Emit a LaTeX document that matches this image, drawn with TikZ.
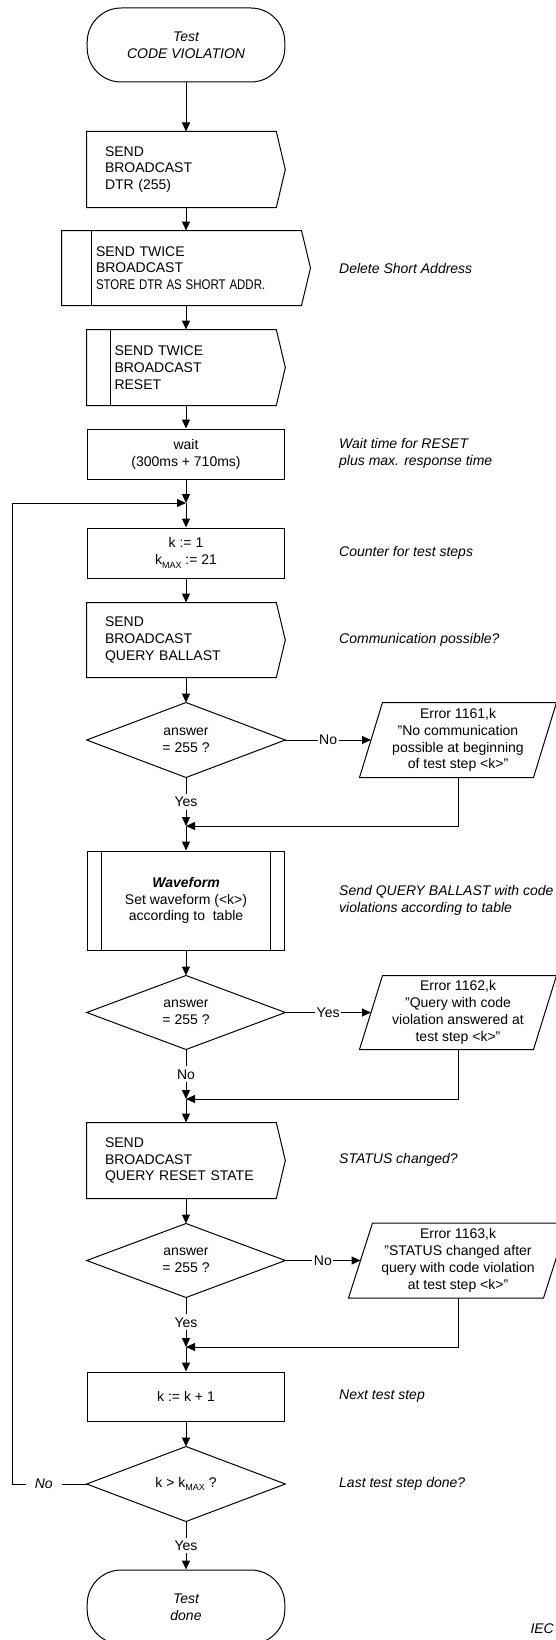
\documentclass[tikz,border=0pt]{standalone}
\usepackage{fontspec}
\usepackage{graphicx}
\setmainfont{Liberation Sans}
\usetikzlibrary{arrows.meta,calc}
\newcommand{\kmx}{k\raisebox{-3.5pt}{\fontsize{9}{9}\selectfont MAX}}
\newcommand{\qq}{\symbol{34}}
\newcommand{\sigbox}[2]{\draw (#1.north west) -- ($(#1.north east)+(-#2,0)$) -- (#1.east) -- ($(#1.south east)+(-#2,0)$) -- (#1.south west) -- cycle;}
\newcommand{\diam}[1]{\draw (#1.north) -- (#1.east) -- (#1.south) -- (#1.west) -- cycle;}
\newcommand{\para}[2]{\draw ($(#1.north west)+(#2,0)$) -- ($(#1.north east)+(#2,0)$) -- ($(#1.south east)+(-#2,0)$) -- ($(#1.south west)+(-#2,0)$) -- cycle;}
\begin{document}
\begin{tikzpicture}[x=1pt,y=-1pt,line width=1pt,
  every node/.style={font=\fontsize{14}{16.8}\selectfont, inner sep=0pt},
  arr/.style={-{Triangle[length=9pt,width=8pt]}},
  hid/.style={draw=none, rectangle, inner sep=0pt},
  term/.style={draw, rectangle, rounded corners=34pt, minimum width=197.6pt, minimum height=74pt, align=center, font=\fontsize{14}{16.8}\selectfont\itshape},
  lbl/.style={fill=white, inner xsep=1.5pt, inner ysep=3pt},
  cmt/.style={anchor=west, align=left, font=\fontsize{14}{16.8}\selectfont\itshape},
  err/.style={hid, align=center},
]
\useasboundingbox (0,0) rectangle (556,1640);

% start
\node[term] (start) at (186,45) {Test\\CODE VIOLATION};

% send broadcast DTR
\node[hid, minimum width=197.6pt, minimum height=75pt, text width=162pt, align=left] (s1) at (186,169.5) {SEND\\BROADCAST\\DTR (255)};
\sigbox{s1}{9}

% send twice store
\node[hid, minimum width=248pt, minimum height=74pt, text width=180pt, align=left] (s2) at (186,268) {SEND TWICE\\BROADCAST\\\scalebox{0.82}[1]{STORE DTR AS SHORT ADDR.}};
\sigbox{s2}{9}
\draw ($(s2.north west)+(30,0)$) -- ($(s2.south west)+(30,0)$);
\node[cmt] (c1) at (338.7,268) {Delete Short Address};

% send twice reset
\node[hid, minimum width=197.6pt, minimum height=75pt, text width=143pt, align=left] (s3) at (186,367.5) {SEND TWICE\\BROADCAST\\RESET};
\sigbox{s3}{9}
\draw ($(s3.north west)+(24,0)$) -- ($(s3.south west)+(24,0)$);

% wait
\node[draw, rectangle, minimum width=197.6pt, minimum height=50pt, align=center] (w) at (186,454) {wait\\(300ms + 710ms)};
\node[cmt] (c2) at (338.7,453.5) {Wait time for RESET\\plus max. response time};

% k := 1
\node[draw, rectangle, minimum width=197.6pt, minimum height=50pt, align=center] (k1) at (186,553) {k := 1\\\kmx{} := 21};
\node[cmt] (c3) at (338.7,553) {Counter for test steps};

% query ballast
\node[hid, minimum width=197.6pt, minimum height=74pt, text width=162pt, align=left] (s4) at (186,640) {SEND\\BROADCAST\\QUERY BALLAST};
\sigbox{s4}{9}
\node[cmt] (c4) at (338.7,640) {Communication possible?};

% diamond 1
\node[hid, minimum width=197.6pt, minimum height=74pt, align=center] (d1) at (186,740) {answer\\= 255 ?};
\diam{d1}
\node[err, minimum width=173pt, minimum height=74pt] (e1) at (458,740) {Error 1161,k\\\qq No communication\\possible at beginning\\of test step <k>\qq};
\para{e1}{11.5}

% waveform
\node[draw, rectangle, minimum width=197.6pt, minimum height=99pt, align=center] (wf) at (186,900.5) {\textbf{\textit{Waveform}}\\Set waveform (<k>)\\according to~ table};
\draw ($(wf.north west)+(14.6,0)$) -- ($(wf.south west)+(14.6,0)$);
\draw ($(wf.north east)+(-14.6,0)$) -- ($(wf.south east)+(-14.6,0)$);
\node[cmt] (c5) at (338.7,900) {Send QUERY BALLAST with code\\violations according to table};

% diamond 2
\node[hid, minimum width=197.6pt, minimum height=73pt, align=center] (d2) at (186,1012.5) {answer\\= 255 ?};
\diam{d2}
\node[err, minimum width=173pt, minimum height=73pt] (e2) at (458,1012.5) {Error 1162,k\\\qq Query with code\\violation answered at\\test step <k>\qq};
\para{e2}{11.5}

% query reset state
\node[hid, minimum width=197.6pt, minimum height=75pt, text width=162pt, align=left] (s5) at (186,1160.5) {SEND\\BROADCAST\\QUERY RESET STATE};
\sigbox{s5}{9}
\node[cmt] (c6) at (338.7,1160) {STATUS changed?};

% diamond 3
\node[hid, minimum width=197.6pt, minimum height=73pt, align=center] (d3) at (186,1260.5) {answer\\= 255 ?};
\diam{d3}
\node[err, minimum width=194pt, minimum height=74pt] (e3) at (458,1260.5) {Error 1163,k\\\qq STATUS changed after\\query with code violation\\at test step <k>\qq};
\para{e3}{12}

% k := k+1
\node[draw, rectangle, minimum width=197.6pt, minimum height=49pt, align=center] (k2) at (186,1396.5) {k := k + 1};
\node[cmt] (c7) at (338.7,1396) {Next test step};

% diamond 4
\node[hid, minimum width=197.6pt, minimum height=74pt, align=center] (d4) at (186,1484) {k > \kmx{} ?};
\diam{d4}
\node[cmt] (c8) at (338.7,1484) {Last test step done?};

% end
\node[term] (end) at (186,1607) {Test\\done};
\node[cmt] (iec) at (530,1629) {IEC};

% junctions
\coordinate (j0) at (186,503);
\coordinate (j1) at (186,826);
\coordinate (j2) at (186,1099);
\coordinate (j3) at (186,1347);
\coordinate (lc) at (12.7,1484);

% connectors
\draw[arr] (start.south) -- (s1.north);
\draw[arr] (s1.south) -- (s2.north);
\draw[arr] (s2.south) -- (s3.north);
\draw[arr] (s3.south) -- (w.north);
\draw[arr] (w.south) -- (j0);
\draw[arr] (j0) -- (k1.north);
\draw[arr] (k1.south) -- (s4.north);
\draw[arr] (s4.south) -- (d1.north);
\draw[arr] (d1.east) -- node[lbl, midway]{No} (e1.west);
\draw[arr] (d1.south) -- node[lbl, midway]{Yes} (j1);
\draw[arr] (e1.south) |- (j1);
\draw[arr] (j1) -- (wf.north);
\draw[arr] (wf.south) -- (d2.north);
\draw[arr] (d2.east) -- node[lbl, midway]{Yes} (e2.west);
\draw[arr] (d2.south) -- node[lbl, midway]{No} (j2);
\draw[arr] (e2.south) |- (j2);
\draw[arr] (j2) -- (s5.north);
\draw[arr] (s5.south) -- (d3.north);
\draw[arr] (d3.east) -- node[lbl, midway]{No} (e3.west);
\draw[arr] (d3.south) -- node[lbl, midway]{Yes} (j3);
\draw[arr] (e3.south) |- (j3);
\draw[arr] (j3) -- (k2.north);
\draw[arr] (k2.south) -- (d4.north);
\draw[arr] (d4.south) -- node[lbl, midway]{Yes} (end.north);
\draw[arr] (d4.west) -- node[lbl, pos=0.58, inner xsep=9pt, font=\fontsize{14}{16.8}\selectfont\itshape]{No} (lc) |- (j0);
\end{tikzpicture}
\end{document}
